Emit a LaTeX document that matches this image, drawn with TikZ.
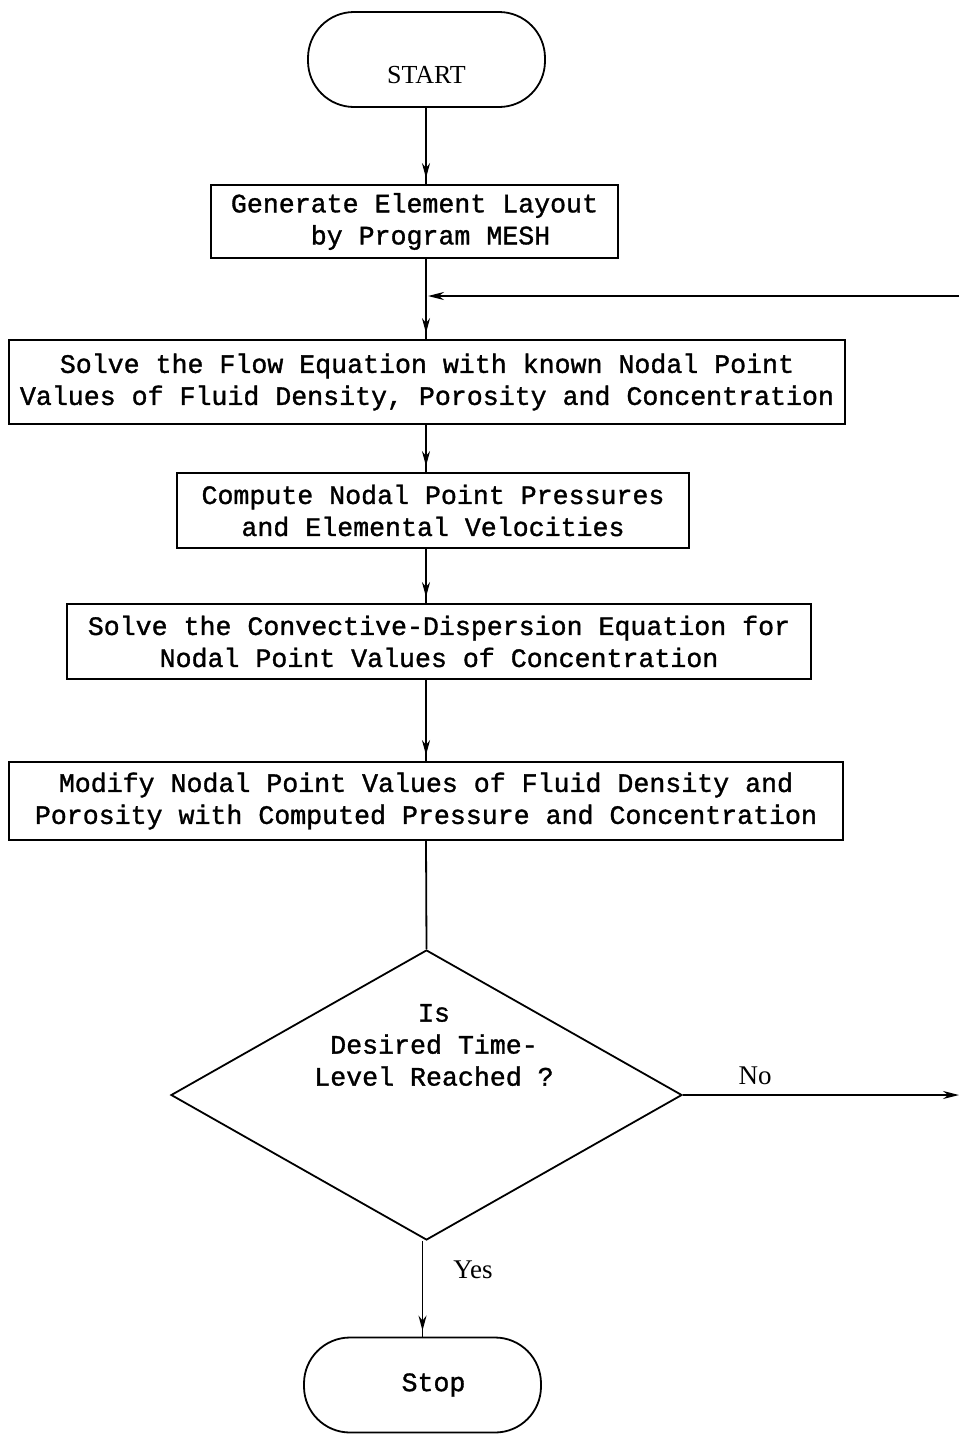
\documentclass[tikz,border=0pt]{standalone}
\usepackage{fontspec}
\setmainfont{Liberation Serif}
\newfontfamily\tw[FakeBold=1.2]{Liberation Mono}
\usetikzlibrary{shapes.geometric,arrows.meta,decorations.markings}
\tikzset{
  line/.style={line width=1.8pt, draw=black},
  twfont/.style={font={\tw\fontsize{26.6}{32}\selectfont}},
  proc/.style={line, rectangle, inner sep=0pt, align=center, twfont},
  term/.style={line, rectangle, rounded corners=46pt, inner sep=0pt,
     minimum width=237pt, minimum height=95pt},
  lbl/.style={font={\fontsize{27}{30}\selectfont}, inner sep=0pt},
  flow/.style={line, postaction={decorate},
     decoration={markings, mark=at position -6pt with {\arrow{Stealth[length=15pt,width=8pt]}}}},
  tip/.style={line, -{Stealth[length=16pt,width=8pt]}}
}
\begin{document}
\begin{tikzpicture}[x=1pt,y=1pt]
\useasboundingbox[fill=white] (0,0) rectangle (959,-1435);
\coordinate (spine) at (426,0);
\node[term, font={\fontsize{26}{28}\selectfont}] (start) at (426.5,-59.5) {\raisebox{-24pt}[0pt][0pt]{START}};
\node[proc, minimum width=407pt, minimum height=73pt] (b1) at (414.5,-221.5)
  {Generate Element Layout\\\hspace*{32pt}by Program MESH};
\node[proc, minimum width=836pt, minimum height=84pt] (b2) at (427,-382)
  {Solve the Flow Equation with known Nodal Point\\Values of Fluid Density, Porosity and Concentration};
\node[proc, minimum width=512pt, minimum height=75pt] (b3) at (433,-510.5)
  {Compute Nodal Point Pressures\\ and Elemental Velocities};
\node[proc, minimum width=744pt, minimum height=75pt] (b4) at (439,-641.5)
  {Solve the Convective-Dispersion Equation for\\Nodal Point Values of Concentration};
\node[proc, minimum width=834pt, minimum height=78pt] (b5) at (426,-801)
  {Modify Nodal Point Values of Fluid Density and\\Porosity with Computed Pressure and Concentration};
\node[line, diamond, aspect=1.76, inner sep=0pt, minimum width=511pt, minimum height=290pt] (dec) at (426.5,-1095) {};
\node[twfont, align=center, inner sep=0pt] (dectext) at (434,-1045)
  {Is\\Desired Time-\\Level Reached ?};
\node[term, twfont] (stop) at (422.5,-1385) {\hspace*{22pt}Stop};
\coordinate (loopR) at (959,-296);
\coordinate (loopL) at (spine |- loopR);
\coordinate (edge) at (959,0);
\node[lbl] (no) at (755,-1076) {No};
\node[lbl] (yes) at (473,-1270) {Yes};

\draw[flow] (start.south -| spine) -- (spine |- b1.north);
\draw[line] (spine |- b1.south) -- (loopL);
\draw[flow] (loopL) -- (spine |- b2.north);
\draw[tip] (loopR) -- ([xshift=2pt]loopL);
\draw[flow] (spine |- b2.south) -- (spine |- b3.north);
\draw[flow] (spine |- b3.south) -- (spine |- b4.north);
\draw[flow] (spine |- b4.south) -- (spine |- b5.north);
\draw[line] (spine |- b5.south) -- (dec.north);
\draw[tip] (dec.east) -- (dec.east -| edge);
\draw[flow] ([xshift=-4pt]dec.south) -- ([xshift=-4pt]dec.south |- stop.north);
\end{tikzpicture}
\end{document}
